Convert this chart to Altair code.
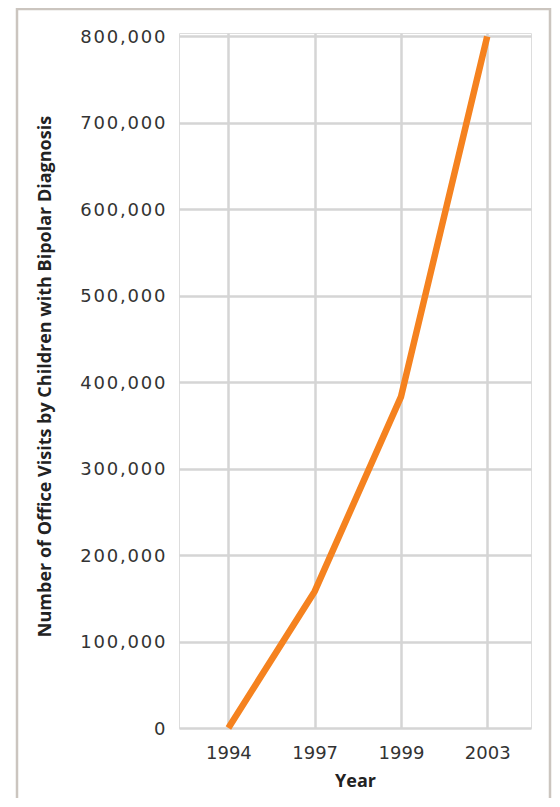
import altair as alt
import pandas as pd

years = ["1994", "1997", "1999", "2003"]
visits = [0, 158000, 383000, 800000]
y_ticks = [0, 100000, 200000, 300000, 400000, 500000, 600000, 700000, 800000]
y_tick_labels = ["0", "100,000", "200,000", "300,000", "400,000", "500,000", "600,000", "700,000", "800,000"]

df = pd.DataFrame({"Year": years, "Visits": visits})

# widen the label spacing slightly with hair spaces (the original typeface is wide-set)
HS = "\u200a"
spaced = [HS.join(list(s)) for s in y_tick_labels]
label_expr = "[" + ",".join("'" + s + "'" for s in spaced) + "][round(datum.value / 100000)]"

W, H = 352, 695

line = alt.Chart(df).mark_line(color="#f5821f", strokeWidth=6.5, strokeCap="butt", strokeJoin="miter").encode(
    x=alt.X("Year:O", sort=years,
            scale=alt.Scale(type="point", padding=0.54, align=0.53),
            axis=alt.Axis(title="Year", labelAngle=0, labelFont="DejaVu Sans", labelFontSize=18,
                          labelColor="#333333", labelPadding=16, ticks=False, domain=False,
                          grid=True, gridColor="#d5d5d5", gridWidth=2.5,
                          titleFont="Open Sans", titleFontWeight="bold", titleFontSize=18,
                          titleColor="#222222", titleY=53, titleBaseline="middle")),
    y=alt.Y("Visits:Q", scale=alt.Scale(domain=[0, 804000], nice=False),
            axis=alt.Axis(title="Number of Office Visits by Children with Bipolar Diagnosis",
                          values=y_ticks, labelExpr=label_expr, labelFont="DejaVu Sans", labelFontSize=18,
                          labelColor="#333333", labelPadding=14, ticks=False, domain=False,
                          grid=True, gridColor="#d5d5d5", gridWidth=2.5, labelOffset=1,
                          titleFont="Open Sans", titleFontWeight="bold", titleFontSize=18,
                          titleColor="#222222", titleX=-134, titleY=343,
                          titleAngle=-90, titleAlign="center", titleBaseline="middle")),
)

frame = alt.Chart(pd.DataFrame({"a": [0]})).mark_rect(
    fill="transparent", stroke="#cbc5bf", strokeWidth=2.5
).encode(
    x=alt.value(-162), x2=alt.value(371), y=alt.value(-24), y2=alt.value(800)
)

chart = alt.layer(frame, line).properties(
    width=W, height=H,
    autosize=alt.AutoSizeParams(type="none"),
    padding={"left": 171, "top": 25, "right": 21, "bottom": 70},
).configure_view(stroke="#d5d5d5", strokeWidth=2.5).configure(background="white")

chart.save("out.html", embed_options={"renderer": "svg", "actions": False})
